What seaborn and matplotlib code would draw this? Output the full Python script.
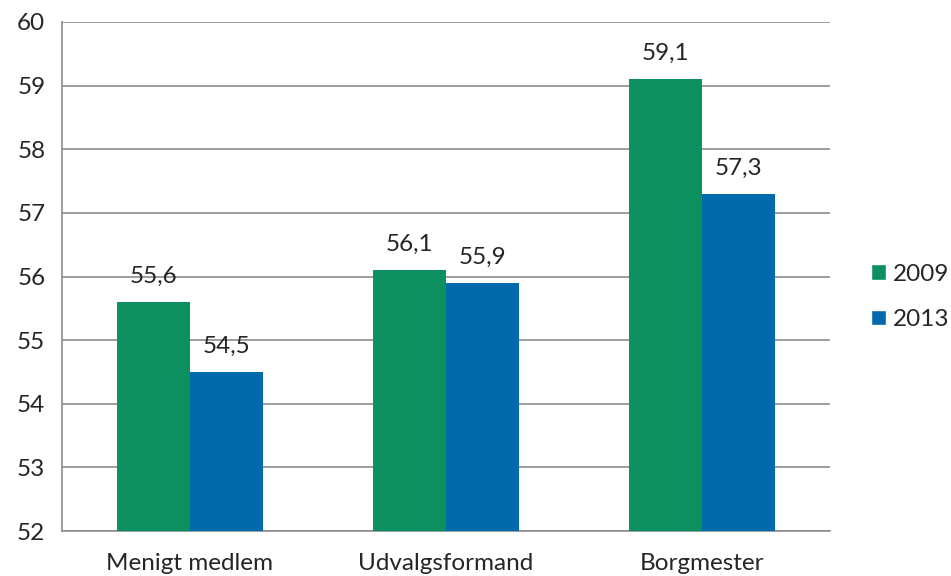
import pandas as pd
import matplotlib
matplotlib.use("Agg")
import matplotlib.pyplot as plt
import seaborn as sns

# data
categories = ["Menigt medlem", "Udvalgsformand", "Borgmester"]
years = ["2009", "2013"]
values_2009 = [55.6, 56.1, 59.1]
values_2013 = [54.5, 55.9, 57.3]

df = pd.DataFrame({
    "Kategori": categories * 2,
    "År": [years[0]] * 3 + [years[1]] * 3,
    "Værdi": values_2009 + values_2013,
})

sns.set_style("white")
plt.rcParams["font.family"] = ["Lato", "DejaVu Sans"]

palette = {"2009": "#0c9060", "2013": "#006aab"}
fs = 17.5

fig = plt.figure(figsize=(9.51, 5.76), dpi=100)
ax = fig.add_axes([62 / 951, 45 / 576, 768 / 951, 509 / 576])

sns.barplot(data=df, x="Kategori", y="Værdi", hue="År", palette=palette,
            width=0.57, saturation=1, ax=ax, zorder=3)

# bars start at 52
for p in ax.patches:
    h = p.get_height()
    if h > 0:
        p.set_y(52)
        p.set_height(h - 52)
        p.set_linewidth(0)

ax.set_ylim(52, 60)
ax.set_xlim(-0.5, 2.5)
ax.set_yticks(range(52, 61))
ax.yaxis.grid(True, color="#8c8c8c", linewidth=1.2, zorder=0)
ax.set_axisbelow(True)

# labels above bars
for cont in ax.containers:
    labels = [f"{v:.1f}".replace(".", ",") for v in cont.datavalues]
    ax.bar_label(cont, labels=labels, padding=11, fontsize=fs)

ax.set_xlabel("")
ax.set_ylabel("")
for s in ["top", "right"]:
    ax.spines[s].set_visible(False)
for s in ["left", "bottom"]:
    ax.spines[s].set_color("#8c8c8c")
    ax.spines[s].set_linewidth(1.2)

ax.set_xticks([-0.5, 0.5, 1.5, 2.5], minor=True)
ax.set_xticks([0, 1, 2])
ax.set_xticklabels(categories, fontsize=fs)
ax.tick_params(axis="x", which="major", length=0, pad=16)
ax.tick_params(axis="x", which="minor", length=7, color="#8c8c8c", width=1.2)
ax.tick_params(axis="y", length=7, color="#8c8c8c", width=1.2, labelsize=fs, pad=5)

leg = ax.legend(loc="center left", bbox_to_anchor=(1.025, 0.46), frameon=False,
                fontsize=fs, handlelength=0.6, handleheight=0.6,
                labelspacing=1.0, handletextpad=0.3)

fig.savefig("out.png", dpi=100)
